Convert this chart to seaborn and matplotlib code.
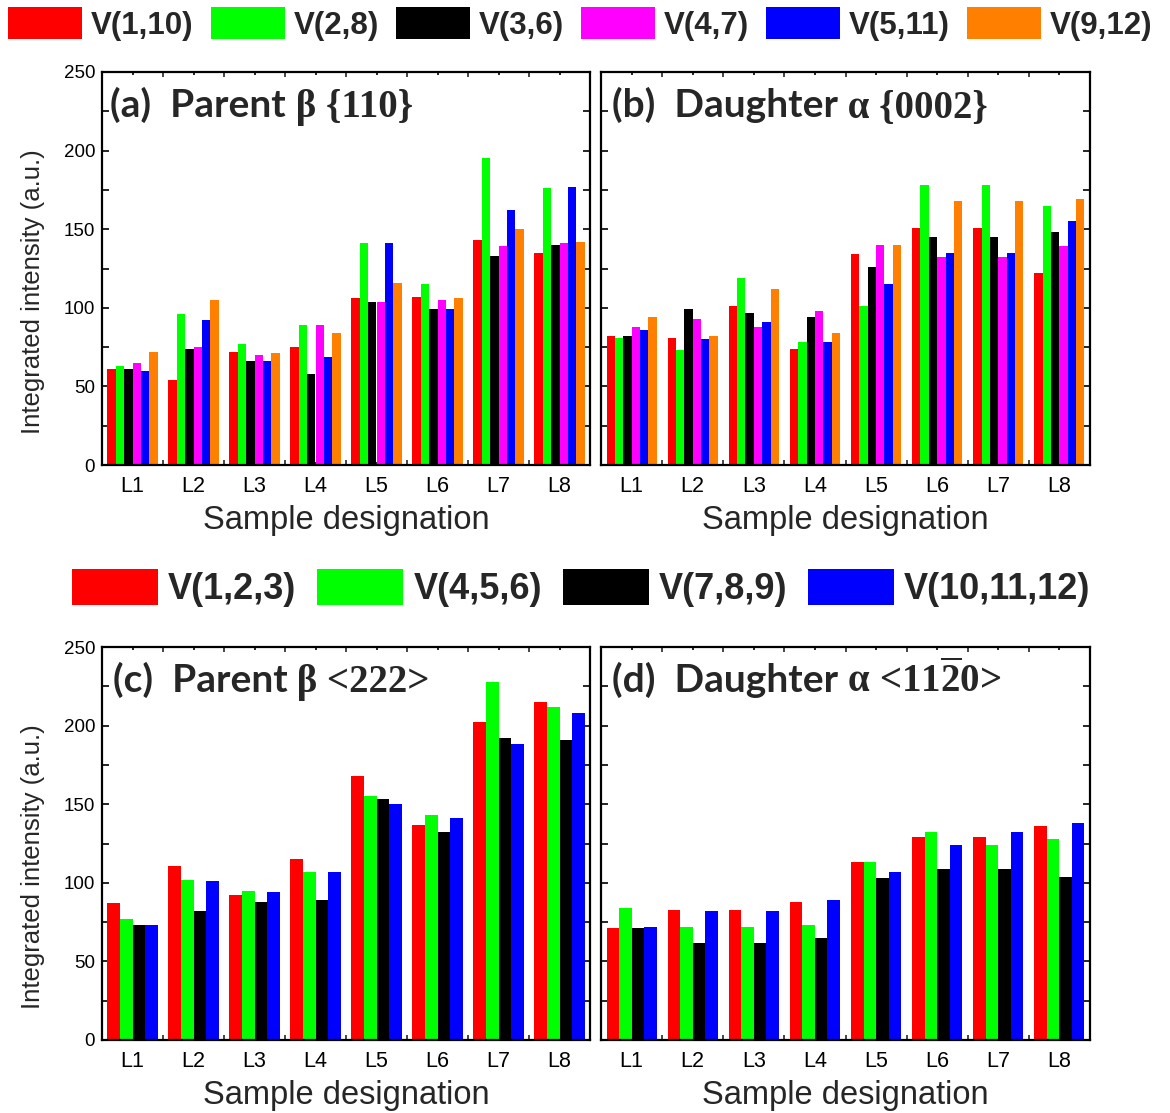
import numpy as np
import pandas as pd
import matplotlib
matplotlib.use("Agg")
import matplotlib.pyplot as plt
import seaborn as sns
from matplotlib import font_manager as fm
from matplotlib.patches import Patch
from matplotlib.ticker import MultipleLocator

# ---------------- data ----------------
samples = ["L1", "L2", "L3", "L4", "L5", "L6", "L7", "L8"]

pairs = ["V(1,10)", "V(2,8)", "V(3,6)", "V(4,7)", "V(5,11)", "V(9,12)"]
pair_colors = ["#FF0000", "#00FF00", "#000000", "#FF00FF", "#0000FF", "#FF8000"]

triples = ["V(1,2,3)", "V(4,5,6)", "V(7,8,9)", "V(10,11,12)"]
triple_colors = ["#FF0000", "#00FF00", "#000000", "#0000FF"]

# (a) Parent beta {110}
a_v1_10 = [61, 54, 72, 75, 106, 107, 143, 135]
a_v2_8 = [63, 96, 77, 89, 141, 115, 195, 176]
a_v3_6 = [61, 74, 66, 58, 104, 99, 133, 140]
a_v4_7 = [65, 75, 70, 89, 104, 105, 139, 141]
a_v5_11 = [60, 92, 66, 69, 141, 99, 162, 177]
a_v9_12 = [72, 105, 71, 84, 116, 106, 150, 142]

# (b) Daughter alpha {0002}
b_v1_10 = [82, 81, 101, 74, 134, 151, 151, 122]
b_v2_8 = [81, 73, 119, 78, 101, 178, 178, 165]
b_v3_6 = [82, 99, 97, 94, 126, 145, 145, 148]
b_v4_7 = [88, 93, 88, 98, 140, 132, 132, 139]
b_v5_11 = [86, 80, 91, 78, 115, 135, 135, 155]
b_v9_12 = [94, 82, 112, 84, 140, 168, 168, 169]

# (c) Parent beta <222>
c_v1_2_3 = [87, 111, 92, 115, 168, 137, 202, 215]
c_v4_5_6 = [77, 102, 95, 107, 155, 143, 228, 212]
c_v7_8_9 = [73, 82, 88, 89, 153, 132, 192, 191]
c_v10_11_12 = [73, 101, 94, 107, 150, 141, 188, 208]

# (d) Daughter alpha <11-20>
d_v1_2_3 = [71, 83, 83, 88, 113, 129, 129, 136]
d_v4_5_6 = [84, 72, 72, 73, 113, 132, 124, 128]
d_v7_8_9 = [71, 62, 62, 65, 103, 109, 109, 104]
d_v10_11_12 = [72, 82, 82, 89, 107, 124, 132, 138]

panel_a = [a_v1_10, a_v2_8, a_v3_6, a_v4_7, a_v5_11, a_v9_12]
panel_b = [b_v1_10, b_v2_8, b_v3_6, b_v4_7, b_v5_11, b_v9_12]
panel_c = [c_v1_2_3, c_v4_5_6, c_v7_8_9, c_v10_11_12]
panel_d = [d_v1_2_3, d_v4_5_6, d_v7_8_9, d_v10_11_12]


def to_frame(series_list, names):
    rows = []
    for name, vals in zip(names, series_list):
        for s, v in zip(samples, vals):
            rows.append({"sample": s, "variant": name, "value": v})
    return pd.DataFrame(rows)


sns.set_theme(style="ticks")
SANS = "Liberation Sans"
plt.rcParams["font.family"] = [SANS, "DejaVu Sans"]
plt.rcParams["mathtext.fontset"] = "custom"
plt.rcParams["mathtext.rm"] = "Liberation Serif"
plt.rcParams["mathtext.it"] = "Liberation Serif:italic"
plt.rcParams["mathtext.bf"] = "Liberation Serif:bold"

W, H, DPI = 1170, 1113, 100
fig = plt.figure(figsize=(W / DPI, H / DPI), dpi=DPI)
fig.patch.set_facecolor("white")


def fx(px):
    return px / W


def fy(py):
    return 1 - py / H


rects = {
    "a": (102, 590, 72, 465),
    "b": (601, 1090, 72, 465),
    "c": (102, 590, 647, 1040),
    "d": (601, 1090, 647, 1040),
}
axes = {}
for key, (l, r, t, b) in rects.items():
    axes[key] = fig.add_axes([fx(l), fy(b), fx(r) - fx(l), (b - t) / H])

specs = {
    "a": (panel_a, pairs, pair_colors),
    "b": (panel_b, pairs, pair_colors),
    "c": (panel_c, triples, triple_colors),
    "d": (panel_d, triples, triple_colors),
}

for key, ax in axes.items():
    series, names, cols = specs[key]
    df = to_frame(series, names)
    sns.barplot(data=df, x="sample", y="value", hue="variant", hue_order=names,
                order=samples, palette=cols, saturation=1, width=0.82,
                linewidth=0, edgecolor="none", ax=ax, legend=False, errorbar=None)
    ax.set_xlim(-0.5, 7.5)
    ax.set_ylim(0, 250)
    ax.yaxis.set_major_locator(MultipleLocator(50))
    ax.yaxis.set_minor_locator(MultipleLocator(25))
    ax.set_xticks(range(8))
    ax.set_xticks(np.arange(-0.5, 8, 1.0), minor=True)
    ax.set_xticklabels(samples)
    ax.tick_params(axis="x", which="major", direction="in", length=2.5, width=1.2,
                   top=True, bottom=True, pad=8, labelsize=15.5, colors="black")
    ax.tick_params(axis="x", which="minor", direction="in", length=3.5, width=1.2,
                   top=True, bottom=True)
    ax.tick_params(axis="y", which="both", direction="in", length=5, width=1.2,
                   left=True, right=True, pad=5, labelsize=13.5, colors="black")
    for sp in ax.spines.values():
        sp.set_visible(True)
        sp.set_linewidth(1.6)
        sp.set_color("black")
    ax.set_xlabel("Sample designation", fontsize=23.5, fontfamily=SANS, labelpad=6)
    if key in ("a", "c"):
        ax.set_ylabel("Integrated intensity (a.u.)", fontsize=18.5, fontfamily=SANS)
        ax.yaxis.set_label_coords(-0.117, 0.44)
    else:
        ax.set_ylabel("")
        ax.tick_params(axis="y", labelleft=False)

# ---------------- panel titles ----------------
titles = {
    "a": ("(a)  Parent", " \u03b2 {110}", 0.016),
    "b": ("(b)  Daughter", " \u03b1 {0002}", 0.022),
    "c": ("(c)  Parent", " \u03b2 <222>", 0.022),
    "d": ("(d)  Daughter", r" $\mathbf{\alpha}$ <11$\mathbf{\overline{2}}$0>", 0.022),
}
fig.canvas.draw()
renderer = fig.canvas.get_renderer()
for key, (sans_part, serif_part, x0) in titles.items():
    ax = axes[key]
    y0 = 0.885
    t1 = ax.text(x0, y0, sans_part, transform=ax.transAxes, fontfamily="Lato",
                 fontweight="bold", fontsize=28, va="baseline", ha="left")
    bb = t1.get_window_extent(renderer=renderer)
    x1 = ax.transAxes.inverted().transform((bb.x1, bb.y0))[0]
    ax.text(x1, y0, serif_part, transform=ax.transAxes,
            fontfamily=["Liberation Serif", "DejaVu Serif"], fontweight="bold",
            fontsize=28, va="baseline", ha="left")

# ---------------- legends ----------------
def px_to_units(px, fs):
    return px / (fs * DPI / 72.0)


fs1 = 22.5
h1 = [Patch(facecolor=c, edgecolor="none") for c in pair_colors]
fig.legend(h1, pairs, loc="upper left", bbox_to_anchor=(fx(8), fy(7)), ncol=6,
           frameon=False, borderpad=0, borderaxespad=0,
           prop=fm.FontProperties(family=SANS, weight="bold", size=fs1),
           handlelength=px_to_units(74, fs1), handleheight=px_to_units(38, fs1),
           handletextpad=px_to_units(9, fs1), columnspacing=px_to_units(17, fs1))

fs2 = 26
h2 = [Patch(facecolor=c, edgecolor="none") for c in triple_colors]
fig.legend(h2, triples, loc="upper left", bbox_to_anchor=(fx(72), fy(569)), ncol=4,
           frameon=False, borderpad=0, borderaxespad=0,
           prop=fm.FontProperties(family=SANS, weight="bold", size=fs2),
           handlelength=px_to_units(86, fs2), handleheight=px_to_units(42, fs2),
           handletextpad=px_to_units(10, fs2), columnspacing=px_to_units(21, fs2))

fig.savefig("out.png", dpi=DPI, facecolor="white")
